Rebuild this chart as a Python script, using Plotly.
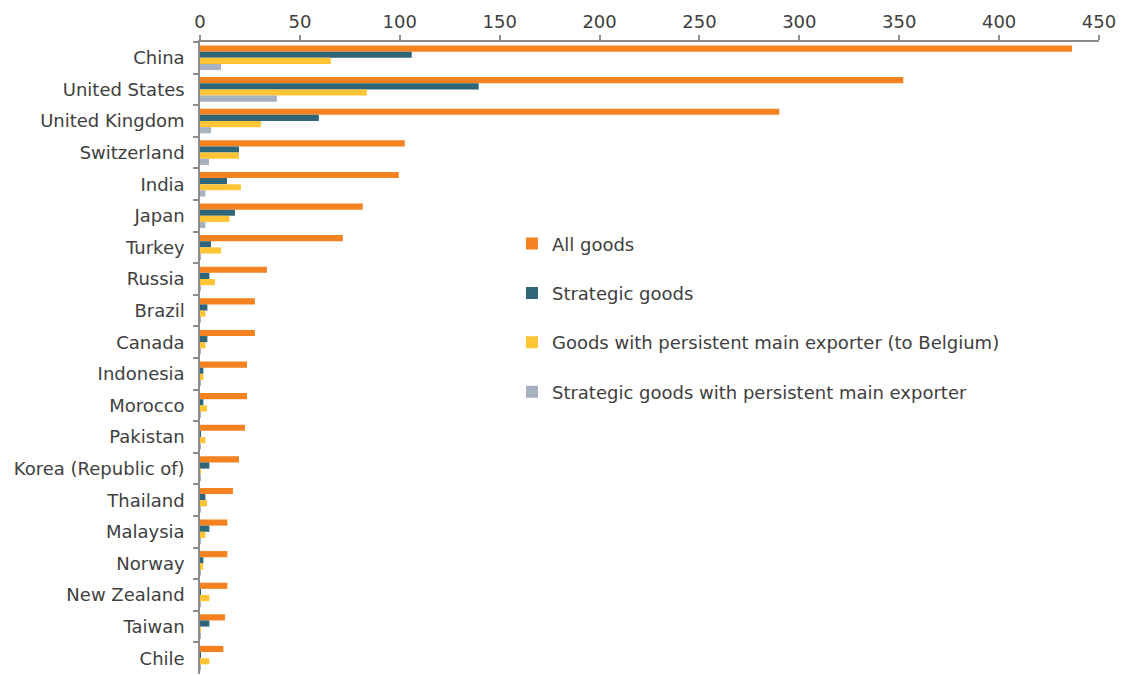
import plotly.graph_objects as go

countries = ["China", "United States", "United Kingdom", "Switzerland", "India", "Japan",
             "Turkey", "Russia", "Brazil", "Canada", "Indonesia", "Morocco", "Pakistan",
             "Korea (Republic of)", "Thailand", "Malaysia", "Norway", "New Zealand",
             "Taiwan", "Chile"]

all_goods = [436.5, 352, 290, 102.5, 99.5, 81.5, 71.5, 33.5, 27.5, 27.5, 23.5, 23.5,
             22.5, 19.5, 16.5, 13.7, 13.7, 13.7, 12.5, 11.7]
strategic = [106, 139.5, 59.5, 19.5, 13.5, 17.5, 5.5, 4.7, 3.7, 3.7, 1.7, 1.7,
             0.5, 4.7, 2.7, 4.7, 1.7, 0.3, 4.7, 0.5]
persistent = [65.5, 83.5, 30.5, 19.5, 20.5, 14.7, 10.5, 7.5, 2.7, 2.7, 1.7, 3.5,
              2.7, 0.5, 3.5, 2.7, 1.5, 4.7, 0.3, 4.7]
strategic_persistent = [10.5, 38.5, 5.5, 4.5, 2.7, 2.7, 0.5, 0.5, 0.5, 0.5, 0.3, 0.3,
                        0.3, 0.3, 0.3, 0.3, 0.3, 0.3, 0.3, 0.3]

series = [
    ("All goods", all_goods, "#F58220"),
    ("Strategic goods", strategic, "#2E6579"),
    ("Goods with persistent main exporter (to Belgium)", persistent, "#FFC535"),
    ("Strategic goods with persistent main exporter", strategic_persistent, "#A7B1BF"),
]

text_color = "#404040"
axis_color = "#8C8C8C"
font_family = "DejaVu Sans"

fig = go.Figure()
for i, (name, vals, color) in enumerate(series):
    fig.add_trace(go.Bar(
        y=countries, x=vals, name=name, orientation="h",
        marker=dict(color=color, line=dict(width=0)),
        legendgroup=f"g{i}",
    ))

fig.update_layout(
    width=1121, height=675,
    barmode="group", bargap=0.22, bargroupgap=0.0,
    plot_bgcolor="white", paper_bgcolor="white",
    margin=dict(l=200, r=22, t=42, b=1),
    font=dict(family=font_family, size=18, color=text_color),
    legend=dict(
        x=0.347, y=0.71, xanchor="left", yanchor="top",
        font=dict(family=font_family, size=18, color=text_color),
        tracegroupgap=23, itemwidth=30, bgcolor="rgba(0,0,0,0)",
    ),
    xaxis=dict(
        side="top", range=[0, 450], dtick=50, tick0=0,
        showgrid=False, zeroline=False,
        showline=True, linecolor=axis_color, linewidth=1.5,
        ticks="outside", ticklen=5, tickcolor=axis_color, tickwidth=1.5,
        tickfont=dict(size=18, color=text_color),
    ),
    yaxis=dict(
        autorange="reversed", showgrid=False, zeroline=False,
        showline=True, linecolor=axis_color, linewidth=1.5,
        ticks="outside", ticklen=5, tickcolor=axis_color, tickwidth=1.5,
        tickson="boundaries", ticklabelstandoff=10,
        tickfont=dict(size=18, color=text_color),
    ),
)

fig.write_html("out.html")
